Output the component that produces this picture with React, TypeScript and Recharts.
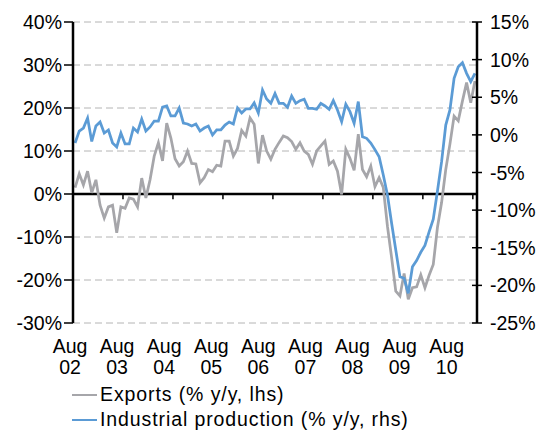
import { CartesianGrid, Line, LineChart, ReferenceLine, XAxis, YAxis } from "recharts";

// monthly, Aug 2002 .. Aug 2010
const exportsYoY = [
  1.5, 4.7, 2.1, 5.3, 0.3, 3.3, -2.6, -5.6, -3.0, -2.6, -9.0, -3.0,
  -3.3, -0.9, -1.2, -3.0, 3.7, -0.9, 3.3, 8.8, 11.9, 7.7, 16.5, 13.0,
  8.2, 6.5, 7.5, 10.0, 7.1, 7.0, 2.6, 3.8, 5.7, 5.2, 6.7, 6.5,
  12.3, 12.3, 8.8, 10.6, 14.8, 13.5, 17.7, 16.2, 7.1, 13.7, 10.0, 8.1,
  10.4, 12.0, 13.5, 13.1, 12.2, 10.4, 11.9, 10.0, 9.2, 6.9, 10.0, 11.2,
  12.3, 6.9, 7.7, 5.3, -0.1, 10.4, 8.3, 5.5, 13.9, 5.7, 4.0, 6.5,
  1.7, 3.8, 1.5, -7.5, -14.8, -22.6, -23.7, -18.5, -24.5, -21.8, -21.6, -18.8,
  -21.8, -18.9, -16.4, -7.8, -2.0, 5.7, 11.6, 18.1, 17.0, 21.6, 25.9, 21.2,
  26.3,
];

const industrialProduction = [
  -1.08, 0.51, 0.91, 2.24, -0.88, 1.18, 1.71, 0.25, 0.65, -1.08, -1.61, 0.25,
  -1.21, -1.21, 0.91, 0.38, 2.11, 0.51, 1.05, 1.84, 1.84, 3.7, 3.84, 2.51,
  2.51, 3.57, 1.58, 1.45, 1.18, 1.45, 0.51, 0.91, 1.18, -0.02, 0.65, 0.65,
  1.31, 1.71, 1.45, 3.57, 2.91, 3.44, 3.44, 4.24, 2.91, 5.96, 4.77, 4.2,
  5.5, 4.2, 4.19, 3.66, 5.17, 4.19, 4.55, 4.73, 3.53, 3.53, 3.4, 4.19,
  3.84, 3.4, 4.55, 3.31, 1.75, 4.06, 3.08, 1.54, 4.42, -0.24, -0.46, -1.08,
  -1.96, -2.9, -5.33, -7.99, -11.75, -15.3, -18.85, -19.06, -21.05, -17.52, -16.7, -15.6,
  -14.7, -12.9, -11.2, -7.5, -3.56, 1.31, 3.31, 7.52, 9.06, 9.59, 8.18, 7.07,
  8.18,
];

const yearLabels = ["02", "03", "04", "05", "06", "07", "08", "09", "10"];
const leftTicks = [-30, -20, -10, 0, 10, 20, 30, 40];
const rightTicks = [-25, -20, -15, -10, -5, 0, 5, 10, 15];

const FONT = '"Liberation Sans", Arial, sans-serif';
const FS = 19.5;
const GREY = "#a6a6aa";
const BLUE = "#5b9bd5";

const data = exportsYoY.map((v, i) => ({ month: i, exports: v, ip: industrialProduction[i] }));
// year ticks sit between Jul and Aug
const xTicks = yearLabels.map((_, k) => k * 12 - 0.5);

const series = [
  { key: "exports", name: "Exports (% y/y, lhs)", color: GREY, axis: "left" },
  { key: "ip", name: "Industrial production (% y/y, rhs)", color: BLUE, axis: "right" },
];

function LeftTick(props: any) {
  const { x, y, payload } = props;
  return (
    <g>
      <line x1={x - 9} x2={x} y1={y} y2={y} stroke="#000" strokeWidth={1.5} />
      <text x={x - 11} y={y} textAnchor="end" dominantBaseline="central" fontSize={FS} fontFamily={FONT} fill="#000">
        {payload.value}%
      </text>
    </g>
  );
}

function RightTick(props: any) {
  const { x, y, payload } = props;
  return (
    <g>
      <line x1={x - 5} x2={x + 5} y1={y} y2={y} stroke="#000" strokeWidth={1.5} />
      <text x={x + 13} y={y} textAnchor="start" dominantBaseline="central" fontSize={FS} fontFamily={FONT} fill="#000">
        {payload.value}%
      </text>
    </g>
  );
}

function YearTick(props: any) {
  const { x, y, index } = props;
  // excel spreads the labels a bit tighter than the ticks
  const cx = x - 3 - index * 2.9;
  return (
    <text textAnchor="middle" fontSize={FS} fontFamily={FONT} fill="#000">
      <tspan x={cx} y={y + 30}>Aug</tspan>
      <tspan x={cx} y={y + 51}>{yearLabels[index]}</tspan>
    </text>
  );
}

function LegendBox() {
  return (
    <div
      style={{
        position: "absolute",
        top: 374,
        left: 64,
        fontFamily: FONT,
        fontSize: FS,
        color: "#000",
        lineHeight: "25px",
        letterSpacing: 0.9,
      }}
    >
      {series.map((s) => (
        <div key={s.key} style={{ display: "flex", alignItems: "center", height: 25, whiteSpace: "nowrap" }}>
          <span style={{ display: "inline-block", width: 25, borderTop: `2.5px solid ${s.color}`, marginRight: 3 }} />
          {s.name}
        </div>
      ))}
    </div>
  );
}

export default function App() {
  return (
    <div style={{ position: "relative", width: 536, height: 424, overflow: "hidden" }}>
      <LineChart width={536} height={416} data={data} margin={{ top: 14, right: 0, bottom: 0, left: 0 }}>
        <CartesianGrid yAxisId="left" vertical={false} stroke="#b4b4b4" strokeDasharray="7 4" />
        <XAxis
          dataKey="month"
          type="number"
          domain={[-0.5, 96.5]}
          ticks={xTicks}
          interval={0}
          height={101}
          axisLine={false}
          tickLine={false}
          tickSize={0}
          tickMargin={0}
          tick={<YearTick />}
        />
        <YAxis
          yAxisId="left"
          orientation="left"
          width={65}
          domain={[-30, 40]}
          ticks={leftTicks}
          interval={0}
          axisLine={{ stroke: "#000", strokeWidth: 2.5 }}
          tickLine={false}
          tickSize={0}
          tickMargin={0}
          tick={<LeftTick />}
        />
        <YAxis
          yAxisId="right"
          orientation="right"
          width={67}
          domain={[-25, 15]}
          ticks={rightTicks}
          interval={0}
          axisLine={{ stroke: "#000", strokeWidth: 2.5 }}
          tickLine={false}
          tickSize={0}
          tickMargin={0}
          tick={<RightTick />}
        />
        <ReferenceLine yAxisId="left" y={0} stroke="#000" strokeWidth={2.5} />
        {xTicks.map((t) => (
          <ReferenceLine
            key={t}
            yAxisId="left"
            segment={[{ x: t, y: 0 }, { x: t, y: -1.2 }]}
            stroke="#000"
            strokeWidth={1.5}
          />
        ))}
        {series.map((s) => (
          <Line
            key={s.key}
            yAxisId={s.axis}
            dataKey={s.key}
            name={s.name}
            stroke={s.color}
            strokeWidth={2.75}
            dot={false}
            type="linear"
            isAnimationActive={false}
          />
        ))}
      </LineChart>
      <LegendBox />
    </div>
  );
}
